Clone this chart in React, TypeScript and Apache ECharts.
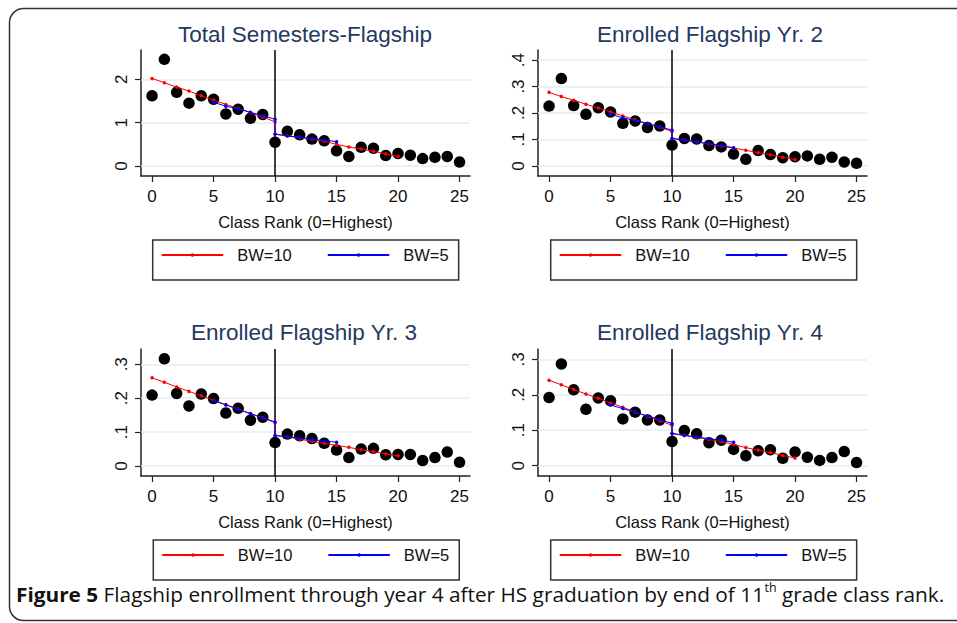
import React, { useEffect, useRef } from "react";
import * as echarts from "echarts";

// ---------- data ----------
const classRank = [0, 1, 2, 3, 4, 5, 6, 7, 8, 9, 10, 11, 12, 13, 14, 15, 16, 17, 18, 19, 20, 21, 22, 23, 24, 25];
const bw10LeftRanks = [0, 1, 2, 3, 4, 5, 6, 7, 8, 9, 10];
const bw10RightRanks = [10, 11, 12, 13, 14, 15, 16, 17, 18, 19, 20];
const bw5LeftRanks = [5, 6, 7, 8, 9, 10];
const bw5RightRanks = [10, 11, 12, 13, 14, 15];
const xTickValues = [0, 5, 10, 15, 20, 25];
const cutoffRank = 10;

const panelTitles = [
  "Total Semesters-Flagship",
  "Enrolled Flagship Yr. 2",
  "Enrolled Flagship Yr. 3",
  "Enrolled Flagship Yr. 4",
];
const xAxisTitle = "Class Rank (0=Highest)";
const legendNames = ["BW=10", "BW=5"];

const yTicksTotal = [0, 1, 2];
const yTicksYr2 = [0, 0.1, 0.2, 0.3, 0.4];
const yTicksYr3 = [0, 0.1, 0.2, 0.3];
const yTicksYr4 = [0, 0.1, 0.2, 0.3];

// Total semesters
const totalDots = [1.62, 2.46, 1.70, 1.45, 1.62, 1.54, 1.20, 1.31, 1.10, 1.19, 0.55, 0.80, 0.72, 0.62, 0.58, 0.35, 0.22, 0.43, 0.41, 0.24, 0.29, 0.25, 0.17, 0.20, 0.22, 0.09];
const totalBw10Left = [2.02, 1.92, 1.82, 1.73, 1.62, 1.52, 1.42, 1.33, 1.23, 1.13, 1.02];
const totalBw10Right = [0.73, 0.70, 0.66, 0.62, 0.57, 0.50, 0.44, 0.39, 0.34, 0.28, 0.22];
const totalBw5Left = [1.47, 1.38, 1.32, 1.24, 1.16, 1.08];
const totalBw5Right = [0.74, 0.69, 0.66, 0.63, 0.60, 0.56];

// Year 2
const yr2Dots = [0.226, 0.330, 0.228, 0.195, 0.220, 0.204, 0.161, 0.170, 0.145, 0.151, 0.079, 0.104, 0.102, 0.077, 0.072, 0.045, 0.025, 0.058, 0.043, 0.031, 0.035, 0.038, 0.025, 0.033, 0.015, 0.010];
const yr2Bw10Left = [0.278, 0.262, 0.248, 0.233, 0.219, 0.204, 0.189, 0.174, 0.160, 0.146, 0.130];
const yr2Bw10Right = [0.104, 0.098, 0.091, 0.083, 0.075, 0.068, 0.059, 0.050, 0.042, 0.033, 0.024];
const yr2Bw5Left = [0.195, 0.182, 0.171, 0.160, 0.147, 0.136];
const yr2Bw5Right = [0.104, 0.097, 0.091, 0.084, 0.077, 0.069];

// Year 3
const yr3Dots = [0.209, 0.316, 0.214, 0.177, 0.212, 0.199, 0.156, 0.170, 0.135, 0.144, 0.069, 0.094, 0.089, 0.081, 0.067, 0.047, 0.025, 0.050, 0.052, 0.033, 0.034, 0.034, 0.016, 0.025, 0.041, 0.011];
const yr3Bw10Left = [0.260, 0.247, 0.233, 0.220, 0.207, 0.194, 0.181, 0.168, 0.155, 0.142, 0.128];
const yr3Bw10Right = [0.090, 0.086, 0.079, 0.073, 0.067, 0.061, 0.055, 0.048, 0.042, 0.036, 0.030];
const yr3Bw5Left = [0.193, 0.180, 0.167, 0.154, 0.142, 0.130];
const yr3Bw5Right = [0.090, 0.086, 0.082, 0.078, 0.074, 0.070];

// Year 4
const yr4Dots = [0.192, 0.287, 0.214, 0.159, 0.191, 0.183, 0.132, 0.151, 0.129, 0.129, 0.068, 0.099, 0.090, 0.065, 0.072, 0.046, 0.028, 0.042, 0.045, 0.021, 0.039, 0.024, 0.015, 0.023, 0.040, 0.009];
const yr4Bw10Left = [0.241, 0.228, 0.215, 0.202, 0.190, 0.177, 0.165, 0.151, 0.139, 0.127, 0.114];
const yr4Bw10Right = [0.091, 0.086, 0.080, 0.074, 0.068, 0.060, 0.051, 0.044, 0.037, 0.029, 0.022];
const yr4Bw5Left = [0.171, 0.161, 0.151, 0.140, 0.130, 0.119];
const yr4Bw5Right = [0.091, 0.085, 0.081, 0.076, 0.072, 0.066];

const captionBold = "Figure 5";
const captionText = " Flagship enrollment through year 4 after HS graduation by end of 11";
const captionSup = "th";
const captionEnd = " grade class rank.";

// ---------- layout ----------
const W = 957;
const H = 623;
const FONT = "'Liberation Sans', Arial, Helvetica, sans-serif";
const CAPTION_FONT = "'Open Sans', 'Noto Sans', sans-serif";
const TITLE_COLOR = "#24395f";
const GRID_COLOR = "#e6eef1";
const AXIS_COLOR = "#222";

const panels = [
  { dots: totalDots, b10L: totalBw10Left, b10R: totalBw10Right, b5L: totalBw5Left, b5R: totalBw5Right, yTicks: yTicksTotal },
  { dots: yr2Dots, b10L: yr2Bw10Left, b10R: yr2Bw10Right, b5L: yr2Bw5Left, b5R: yr2Bw5Right, yTicks: yTicksYr2 },
  { dots: yr3Dots, b10L: yr3Bw10Left, b10R: yr3Bw10Right, b5L: yr3Bw5Left, b5R: yr3Bw5Right, yTicks: yTicksYr3 },
  { dots: yr4Dots, b10L: yr4Bw10Left, b10R: yr4Bw10Right, b5L: yr4Bw5Left, b5R: yr4Bw5Right, yTicks: yTicksYr4 },
];

const gridBoxes = [
  { left: 141, top: 50, width: 329, height: 126 },
  { left: 538, top: 50, width: 329, height: 126 },
  { left: 141, top: 349, width: 329, height: 127 },
  { left: 538, top: 349, width: 329, height: 127 },
];
const yRanges = [
  [-0.231, 2.676],
  [-0.038, 0.438],
  [-0.0295, 0.345],
  [-0.029, 0.329],
];
const xRange = [-0.9, 25.85];
const titlePos = [
  { x: 305, y: 23 },
  { x: 710, y: 23 },
  { x: 304, y: 320.5 },
  { x: 710, y: 320.5 },
];
const legendPos = [
  { left: 152.7, top: 240 },
  { left: 550.7, top: 240 },
  { left: 153.3, top: 540 },
  { left: 550.7, top: 540 },
];

function pairs(xs: number[], ys: number[]) {
  return xs.map((x, i) => [x, ys[i]]);
}

function fmtY(v: number) {
  if (v === 0) return "0";
  const s = String(Math.round(v * 1000) / 1000);
  return s.startsWith("0.") ? s.slice(1) : s;
}

function buildOption() {
  const grid: any[] = [];
  const xAxis: any[] = [];
  const yAxis: any[] = [];
  const series: any[] = [];
  const title: any[] = [];
  const legend: any[] = [];

  panels.forEach((p, i) => {
    grid.push({ ...gridBoxes[i], containLabel: false });
    xAxis.push({
      type: "value",
      gridIndex: i,
      min: xRange[0],
      max: xRange[1],
      position: "bottom",
      axisLine: { show: true, onZero: false, lineStyle: { color: AXIS_COLOR, width: 1.5 } },
      axisTick: { show: true, customValues: xTickValues, length: 6, lineStyle: { color: AXIS_COLOR, width: 1.2 } },
      axisLabel: { customValues: xTickValues, fontSize: 17, color: "#111", margin: 12, fontFamily: FONT },
      splitLine: { show: false },
      name: xAxisTitle,
      nameLocation: "middle",
      nameGap: 37.5,
      nameTextStyle: { fontSize: 16.5, color: "#111", fontFamily: FONT },
    });
    yAxis.push({
      type: "value",
      gridIndex: i,
      min: yRanges[i][0],
      max: yRanges[i][1],
      position: "left",
      axisLine: { show: true, onZero: false, lineStyle: { color: AXIS_COLOR, width: 1.5 } },
      axisTick: { show: true, customValues: p.yTicks, length: 6, lineStyle: { color: AXIS_COLOR, width: 1.2 } },
      axisLabel: {
        customValues: p.yTicks,
        rotate: 90,
        fontSize: 17,
        color: "#111",
        margin: 11,
        fontFamily: FONT,
        formatter: (v: number) => fmtY(v),
      },
      splitLine: { show: false },
    });

    // grid lines + cutoff line
    series.push({
      type: "line",
      name: "_ref" + i,
      xAxisIndex: i,
      yAxisIndex: i,
      data: [],
      silent: true,
      markLine: {
        z: 1,
        silent: true,
        symbol: ["none", "none"],
        label: { show: false },
        animation: false,
        data: [
          ...p.yTicks.map((v) => ({ yAxis: v, lineStyle: { color: GRID_COLOR, width: 1.5, type: "solid" } })),
          { xAxis: cutoffRank, lineStyle: { color: "#000", width: 1.5, type: "solid" } },
        ],
      },
    });

    series.push({
      type: "scatter",
      name: "Data" + i,
      xAxisIndex: i,
      yAxisIndex: i,
      data: pairs(classRank, p.dots),
      symbol: "circle",
      symbolSize: 11.5,
      itemStyle: { color: "#000", opacity: 1 },
      z: 2,
      silent: true,
    });

    series.push({
      type: "line",
      name: legendNames[0],
      xAxisIndex: i,
      yAxisIndex: i,
      data: [...pairs(bw10LeftRanks, p.b10L), ...pairs(bw10RightRanks, p.b10R)],
      symbol: "circle",
      symbolSize: 3.5,
      showSymbol: true,
      showAllSymbol: true,
      lineStyle: { color: "#ff0000", width: 1 },
      itemStyle: { color: "#ff0000", opacity: 1 },
      z: 3,
      silent: true,
    });
    series.push({
      type: "line",
      name: legendNames[1],
      xAxisIndex: i,
      yAxisIndex: i,
      data: [...pairs(bw5LeftRanks, p.b5L), ...pairs(bw5RightRanks, p.b5R)],
      symbol: "circle",
      symbolSize: 3.5,
      showSymbol: true,
      showAllSymbol: true,
      lineStyle: { color: "#0000ff", width: 1 },
      itemStyle: { color: "#0000ff", opacity: 1 },
      z: 4,
      silent: true,
    });

    title.push({
      text: panelTitles[i],
      left: titlePos[i].x,
      top: titlePos[i].y,
      textAlign: "center",
      padding: 0,
      textStyle: { fontSize: 22.5, fontWeight: "normal", color: TITLE_COLOR, fontFamily: FONT },
    });

    legend.push({
      left: legendPos[i].left,
      top: legendPos[i].top,
      orient: "horizontal",
      data: legendNames,
      selectedMode: false,
      itemWidth: 61.5,
      itemHeight: 4.5,
      itemGap: 35,
      padding: [6.5, 10, 16.5, 8],
      borderColor: "#333",
      borderWidth: 1.5,
      borderRadius: 0,
      textStyle: { fontSize: 16.5, color: "#111", fontFamily: FONT, padding: [0, 0, 0, 9] },
    });
  });

  return {
    animation: false,
    backgroundColor: "#fff",
    textStyle: { fontFamily: FONT },
    grid,
    xAxis,
    yAxis,
    series,
    title,
    legend,
    graphic: [
      {
        type: "rect",
        z: -10,
        silent: true,
        shape: { x: 9.5, y: 8.5, width: 990, height: 612, r: 14 },
        style: { fill: "none", stroke: "#333", lineWidth: 1.5 },
      },
      {
        type: "text",
        x: 16,
        y: 594,
        scaleX: 1.04,
        silent: true,
        style: {
          text: `{b|${captionBold}}{n|${captionText}}{s|${captionSup}}{n|${captionEnd}}`,
          textVerticalAlign: "middle",
          verticalAlign: "middle",
          rich: {
            b: { fontFamily: CAPTION_FONT, fontWeight: "bold", fontSize: 20, fill: "#111", lineHeight: 24 },
            n: { fontFamily: CAPTION_FONT, fontWeight: "normal", fontSize: 20, fill: "#111", lineHeight: 24 },
            s: { fontFamily: CAPTION_FONT, fontWeight: "normal", fontSize: 12, fill: "#111", lineHeight: 16, verticalAlign: "top" },
          },
        },
      },
    ],
  };
}

export default function App() {
  const ref = useRef<HTMLDivElement>(null);
  useEffect(() => {
    document.body.style.margin = "0";
    if (!ref.current) return;
    const chart = echarts.init(ref.current, null, { renderer: "svg", width: W, height: H });
    chart.setOption(buildOption() as any);
    return () => chart.dispose();
  }, []);
  return <div ref={ref} style={{ width: W, height: H, background: "#fff" }} />;
}
